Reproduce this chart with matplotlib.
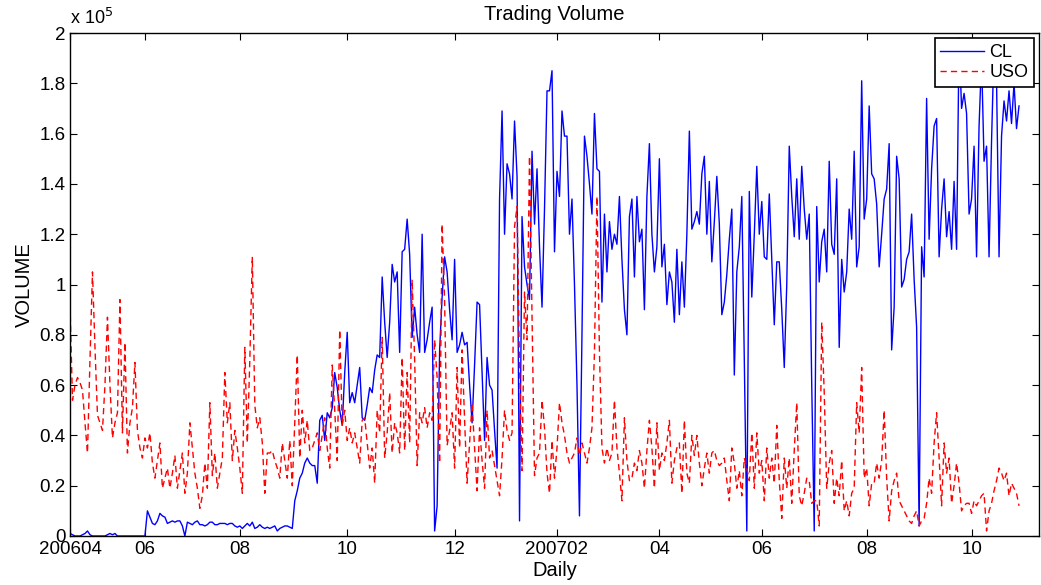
import numpy as np
import matplotlib
matplotlib.use("Agg")
import matplotlib.pyplot as plt
from matplotlib.ticker import FixedLocator, FuncFormatter

plt.rcParams['font.family'] = ['Liberation Sans', 'DejaVu Sans']

# daily volume, in units of 10^4 contracts / shares
cl_vol = [
    0.1, 0.05, 0.0, 0.0, 0.0, 0.05, 0.1, 0.2, 0.05, 0.0,
    0.0, 0.0, 0.0, 0.0, 0.0, 0.05, 0.1, 0.05, 0.1, 0.0,
    0.0, 0.0, 0.0, 0.0, 0.0, 0.0, 0.0, 0.0, 0.0, 0.0,
    0.0, 1.0, 0.75, 0.5, 0.45, 0.6, 0.9, 0.8, 0.75, 0.5,
    0.55, 0.6, 0.55, 0.6, 0.6, 0.4, 0.0, 0.55, 0.5, 0.45,
    0.55, 0.6, 0.45, 0.45, 0.4, 0.45, 0.55, 0.55, 0.45, 0.45,
    0.5, 0.5, 0.5, 0.45, 0.5, 0.5, 0.4, 0.35, 0.4, 0.3,
    0.4, 0.5, 0.4, 0.55, 0.3, 0.35, 0.45, 0.35, 0.3, 0.35,
    0.3, 0.35, 0.4, 0.2, 0.3, 0.35, 0.4, 0.4, 0.35, 0.3,
    1.4, 1.8, 2.3, 2.5, 2.9, 3.1, 2.9, 2.8, 2.8, 2.1,
    4.6, 4.8, 3.8, 4.9, 4.7, 5.1, 6.5, 5.9, 5.0, 4.4,
    6.5, 8.1, 5.3, 5.7, 5.3, 6.0, 6.7, 4.7, 4.6, 5.2,
    5.9, 5.7, 6.6, 7.2, 7.1, 10.3, 8.5, 7.1, 8.5, 10.8,
    10.1, 10.5, 7.3, 11.3, 11.4, 12.6, 11.2, 7.9, 9.1, 8.0,
    7.3, 12.0, 7.3, 7.8, 8.5, 9.1, 0.2, 1.2, 7.4, 9.5,
    11.1, 10.5, 9.0, 7.8, 11.0, 7.3, 7.6, 8.1, 7.6, 7.7,
    6.0, 4.5, 6.8, 9.3, 9.2, 6.5, 3.8, 7.1, 6.0, 5.8,
    4.2, 2.7, 13.4, 16.9, 12.0, 14.8, 14.4, 13.4, 16.5, 14.3,
    0.6, 12.7, 10.7, 10.0, 9.4, 15.3, 12.4, 14.6, 11.5, 9.1,
    13.0, 17.7, 17.7, 18.5, 11.3, 14.5, 13.5, 16.9, 15.9, 15.9,
    12.0, 13.4, 10.0, 6.0, 0.8, 8.0, 15.9, 15.1, 14.0, 12.8,
    16.8, 14.6, 14.5, 9.3, 12.8, 10.5, 12.5, 11.4, 12.0, 11.6,
    13.5, 11.0, 9.0, 8.0, 12.7, 13.4, 10.3, 13.5, 11.7, 12.2,
    9.0, 13.5, 15.6, 12.0, 10.5, 11.5, 15.0, 10.7, 11.6, 9.2,
    10.5, 10.1, 8.5, 11.4, 8.8, 10.9, 9.1, 12.0, 16.1, 12.2,
    12.5, 12.9, 12.4, 14.4, 15.1, 12.0, 14.1, 10.9, 12.5, 14.3,
    12.4, 8.8, 9.3, 10.4, 11.8, 13.0, 6.4, 10.5, 11.5, 13.5,
    7.0, 0.2, 13.7, 9.5, 12.0, 14.7, 12.0, 13.3, 11.1, 11.0,
    13.6, 11.0, 8.4, 10.9, 10.9, 9.0, 6.7, 10.0, 15.5, 13.5,
    11.9, 14.2, 11.8, 14.7, 13.0, 11.8, 12.8, 6.0, 0.2, 13.1,
    10.1, 11.7, 12.2, 10.5, 14.9, 11.6, 11.2, 14.2, 7.5, 11.0,
    9.7, 10.5, 13.0, 11.8, 15.3, 10.7, 11.5, 18.1, 12.6, 13.4,
    17.1, 14.4, 14.2, 13.2, 10.7, 12.0, 13.4, 13.8, 15.6, 7.4,
    9.1, 15.1, 14.2, 9.9, 10.2, 11.0, 11.3, 12.8, 10.2, 8.3,
    0.4, 11.5, 10.3, 17.4, 11.8, 14.6, 16.3, 16.6, 11.1, 13.0,
    14.2, 11.9, 12.9, 11.4, 14.1, 11.4, 19.8, 17.0, 17.6, 16.8,
    12.8, 13.4, 15.5, 11.1, 16.3, 19.0, 14.9, 15.5, 11.1, 15.7,
    19.5, 18.1, 11.1, 15.9, 17.3, 16.5, 17.7, 16.4, 18.0, 16.2,
    17.1,
]

uso_vol = [
    9.2, 5.4, 6.0, 6.3, 6.1, 5.8, 4.5, 3.3, 7.0, 10.5,
    7.5, 4.8, 4.5, 4.2, 6.0, 8.7, 6.0, 3.9, 4.5, 4.9,
    9.4, 4.1, 7.7, 3.3, 4.5, 5.1, 6.9, 4.2, 3.5, 3.1,
    3.9, 3.5, 4.1, 2.9, 2.3, 3.0, 3.7, 1.9, 2.3, 2.7,
    1.9, 2.5, 3.2, 1.9, 2.6, 3.3, 1.7, 2.5, 4.5, 3.5,
    2.5, 1.9, 1.1, 1.6, 2.9, 1.9, 5.3, 2.4, 3.3, 1.9,
    2.5, 3.1, 6.5, 4.5, 5.3, 3.0, 4.2, 3.5, 2.7, 1.7,
    7.5, 3.7, 7.0, 11.1, 5.2, 4.3, 4.7, 3.7, 1.7, 3.3,
    3.3, 3.4, 3.0, 2.7, 2.3, 3.7, 3.0, 2.3, 3.8, 2.0,
    4.5, 7.2, 3.1, 5.0, 3.7, 4.6, 3.4, 3.5, 3.8, 4.1,
    3.4, 4.0, 4.7, 3.5, 2.7, 6.8, 5.0, 3.0, 8.2, 4.4,
    5.0, 3.8, 4.3, 3.7, 4.1, 3.5, 2.9, 4.6, 4.7, 3.7,
    2.7, 3.5, 2.1, 5.0, 4.1, 7.9, 3.1, 4.1, 5.7, 3.3,
    4.5, 4.1, 3.3, 7.1, 3.4, 6.5, 3.7, 10.2, 7.0, 2.8,
    4.9, 4.5, 5.1, 4.3, 4.9, 4.6, 7.8, 6.3, 2.9, 12.4,
    9.3, 3.6, 4.2, 4.9, 2.7, 6.7, 3.5, 7.4, 4.6, 2.1,
    3.7, 5.3, 3.5, 1.8, 4.3, 3.0, 1.9, 5.0, 3.1, 3.4,
    2.8, 2.2, 1.6, 3.1, 5.0, 4.2, 3.8, 4.1, 12.3, 13.1,
    6.7, 2.6, 9.7, 7.8, 15.1, 8.7, 2.4, 3.1, 3.3, 5.4,
    4.3, 2.5, 1.7, 3.8, 2.3, 3.5, 5.3, 4.5, 4.0, 3.3,
    2.9, 3.1, 3.3, 3.9, 3.2, 3.7, 3.3, 2.9, 3.5, 4.3,
    7.3, 13.5, 7.3, 3.5, 2.9, 3.5, 3.0, 3.3, 5.4, 3.5,
    2.5, 1.4, 4.7, 3.0, 2.2, 2.3, 2.9, 2.6, 3.4, 2.9,
    1.9, 3.4, 4.6, 3.5, 1.9, 4.5, 2.6, 3.3, 3.0, 3.7,
    4.6, 2.1, 3.0, 3.5, 3.7, 1.7, 4.6, 2.5, 2.1, 4.0,
    3.2, 4.0, 2.9, 2.0, 2.7, 3.3, 2.5, 3.3, 3.4, 3.0,
    2.8, 2.9, 3.1, 2.2, 1.4, 3.5, 2.9, 1.9, 2.6, 1.6,
    3.1, 2.7, 2.2, 4.1, 1.9, 4.1, 2.5, 3.0, 1.4, 3.5,
    2.3, 3.1, 2.1, 4.4, 2.2, 0.7, 3.1, 1.9, 3.1, 1.3,
    3.4, 5.3, 1.6, 1.2, 1.7, 2.3, 2.2, 1.3, 1.4, 1.4,
    0.4, 8.5, 5.7, 1.9, 2.9, 3.4, 1.3, 2.3, 1.6, 3.0,
    1.0, 1.4, 0.8, 1.7, 1.9, 5.3, 4.1, 6.7, 2.3, 2.7,
    1.2, 2.1, 2.1, 2.9, 2.3, 3.0, 5.0, 2.3, 0.6, 1.8,
    2.2, 2.5, 1.4, 1.2, 1.0, 0.8, 0.6, 0.5, 0.8, 1.0,
    0.4, 0.6, 0.7, 1.3, 2.3, 1.7, 3.7, 4.9, 3.1, 1.2,
    3.7, 2.5, 3.1, 1.3, 2.0, 2.9, 2.1, 1.0, 1.2, 1.3,
    1.3, 0.9, 1.4, 1.2, 1.4, 1.6, 1.7, 0.2, 1.0, 1.3,
    1.8, 2.2, 2.7, 2.5, 2.2, 2.5, 1.6, 2.1, 1.9, 1.7,
    1.2,
]

# month ticks (trading-day index) and their labels
tick_days = [0, 30, 68, 111, 154, 195, 236, 277, 319, 361]
tick_labels = ['200604', '06', '08', '10', '12', '200702', '04', '06', '08', '10']
y_ticks = [0, 0.2, 0.4, 0.6, 0.8, 1.0, 1.2, 1.4, 1.6, 1.8, 2.0]

cl = np.array(cl_vol) * 1e4
uso = np.array(uso_vol) * 1e4
days = np.arange(len(cl))

fig = plt.figure(figsize=(10.41, 5.85), dpi=100)
ax = fig.add_axes([70 / 1041, 49 / 585, 969 / 1041, 503 / 585])

ax.plot(days, cl, color='#0000ff', lw=1.0, label='CL')
ax.plot(days, uso, color='#ff0000', lw=1.0, dashes=(4.5, 3), label='USO')

ax.set_xlim(0, 388)
ax.set_ylim(0, 2e5)
ax.xaxis.set_major_locator(FixedLocator(tick_days))
ax.set_xticklabels(tick_labels)
ax.yaxis.set_major_locator(FixedLocator([v * 1e5 for v in y_ticks]))
ax.yaxis.set_major_formatter(FuncFormatter(lambda v, p: '%g' % (v / 1e5)))
ax.tick_params(direction='in', length=5, width=0.8, top=True, right=True,
               labelsize=13.5, colors='black')
ax.tick_params(axis='x', pad=3.5)
ax.tick_params(axis='y', pad=3)
for s in ax.spines.values():
    s.set_linewidth(1.0)

ax.text(0.0, 1.01, r'x 10$^{5}$', transform=ax.transAxes, fontsize=13,
        ha='left', va='bottom')
ax.set_title('Trading Volume', fontsize=14.5, pad=9)
ax.set_xlabel('Daily', fontsize=14.5, labelpad=2.5)
ax.set_ylabel('VOLUME', fontsize=14.5, labelpad=4)

leg = ax.legend(loc='upper right', fontsize=13, fancybox=False, framealpha=1,
                edgecolor='black', handlelength=2.4, borderaxespad=0.3,
                borderpad=0.3, labelspacing=0.2, handletextpad=0.3)
leg.get_frame().set_linewidth(1.2)

fig.savefig('out.png', dpi=100)
